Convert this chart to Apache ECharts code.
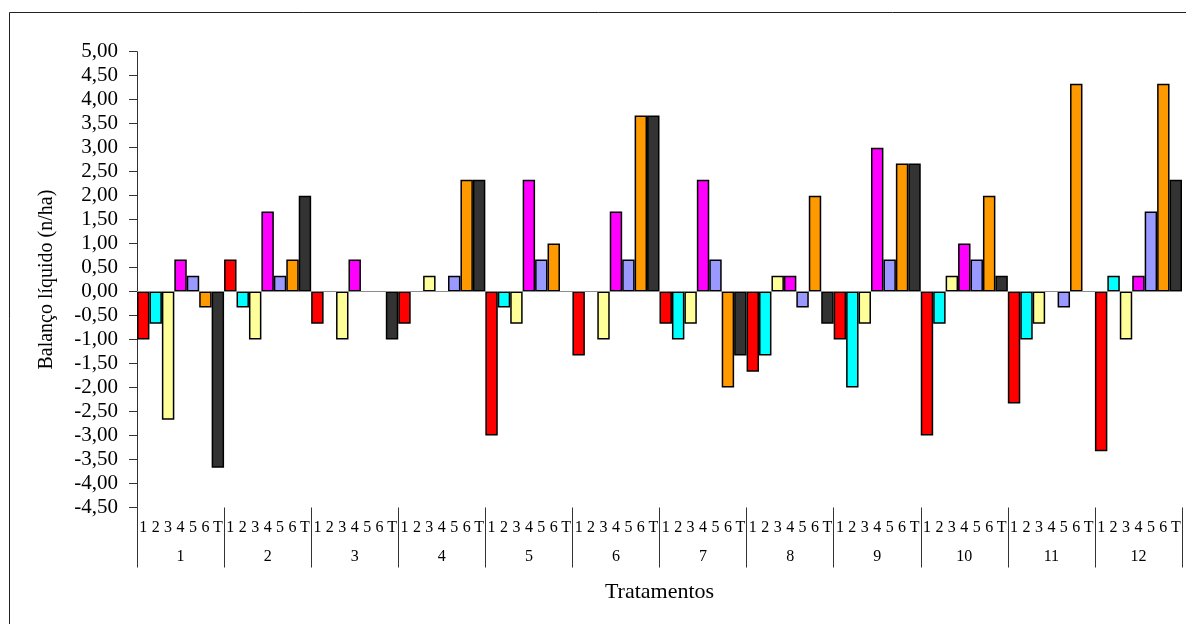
<!DOCTYPE html>
<html>
<head>
<meta charset="utf-8">
<title>Balanço líquido por tratamento</title>
<script src="https://cdn.jsdelivr.net/npm/echarts@6/dist/echarts.min.js"></script>
<style>
  html, body { margin: 0; padding: 0; background: #ffffff; }
  #chart { width: 1186px; height: 624px; }
</style>
</head>
<body>
<div id="chart"></div>
<script>
// Groups (tratamentos) along the horizontal axis
const groups = ['1', '2', '3', '4', '5', '6', '7', '8', '9', '10', '11', '12'];
// Sub-items drawn inside every group
const items = ['1', '2', '3', '4', '5', '6', 'T'];

// Net balance (n/ha) of each item, one value per group
const item1 = [-1.00, 0.67, -0.67, -0.67, -3.00, -1.33, -0.67, -1.67, -1.00, -3.00, -2.33, -3.33];
const item2 = [-0.67, -0.33, 0, 0, -0.33, 0, -1.00, -1.33, -2.00, -0.67, -1.00, 0.33];
const item3 = [-2.67, -1.00, -1.00, 0.33, -0.67, -1.00, -0.67, 0.33, -0.67, 0.33, -0.67, -1.00];
const item4 = [0.67, 1.67, 0.67, 0, 2.33, 1.67, 2.33, 0.33, 3.00, 1.00, 0, 0.33];
const item5 = [0.33, 0.33, 0, 0.33, 0.67, 0.67, 0.67, -0.33, 0.67, 0.67, -0.33, 1.67];
const item6 = [-0.33, 0.67, 0, 2.33, 1.00, 3.67, -2.00, 2.00, 2.67, 2.00, 4.33, 4.33];
const itemT = [-3.67, 2.00, -1.00, 2.33, 0, 3.67, -1.33, -0.67, 2.67, 0.33, 0, 2.33];

const itemValues = [item1, item2, item3, item4, item5, item6, itemT];
const itemColors = ['#FF0000', '#00FFFF', '#FFFF99', '#FF00FF', '#9999FF', '#FF9900', '#333333'];

const FONT = "'Liberation Serif', 'Times New Roman', serif";

// One label per bar for the inner category row
const subLabels = [];
groups.forEach(() => items.forEach(it => subLabels.push(it)));

const series = itemValues.map((vals, i) => ({
  name: items[i],
  type: 'bar',
  xAxisIndex: 0,
  yAxisIndex: 0,
  barGap: '0%',
  barCategoryGap: '0%',
  // empty slots stay empty instead of showing a flat outlined bar
  data: vals.map(v => (v === 0 ? '-' : v)),
  itemStyle: { color: itemColors[i], borderColor: '#000000', borderWidth: 1.5 },
  emphasis: { disabled: true },
  markLine: i === 0 ? {
    silent: true,
    symbol: ['none', 'none'],
    label: { show: false },
    lineStyle: { color: '#8c8c8c', width: 1, type: 'solid' },
    data: [{ yAxis: 0 }]
  } : undefined,
  z: 3
}));

const chart = echarts.init(document.getElementById('chart'), null, { renderer: 'canvas' });
chart.setOption({
  animation: false,
  backgroundColor: '#ffffff',
  textStyle: { fontFamily: FONT, color: '#000000' },
  grid: { left: 137, right: 4, top: 51.7, bottom: 116.5, containLabel: false },
  xAxis: [
    {
      type: 'category',
      data: groups,
      position: 'bottom',
      axisLine: { show: false, onZero: false },
      axisTick: { show: true, interval: 0, length: 60, lineStyle: { color: '#333333', width: 1 } },
      axisLabel: { interval: 0, margin: 41, fontSize: 16, fontFamily: FONT, color: '#000000' },
      splitLine: { show: false },
      name: 'Tratamentos',
      nameLocation: 'middle',
      nameGap: 74,
      nameTextStyle: { fontSize: 22, fontFamily: FONT, color: '#000000' }
    },
    {
      type: 'category',
      data: subLabels,
      position: 'bottom',
      axisLine: { show: false, onZero: false },
      axisTick: { show: false },
      axisLabel: { interval: 0, margin: 12, fontSize: 16, fontFamily: FONT, color: '#000000' },
      splitLine: { show: false }
    }
  ],
  yAxis: {
    type: 'value',
    min: -4.5,
    max: 5,
    interval: 0.5,
    axisLine: { show: true, lineStyle: { color: '#333333', width: 1 } },
    axisTick: { show: true, inside: false, length: 8, lineStyle: { color: '#333333' } },
    axisLabel: {
      margin: 19,
      fontSize: 21,
      fontFamily: FONT,
      color: '#000000',
      formatter: v => v.toFixed(2).replace('.', ',')
    },
    splitLine: { show: false },
    name: 'Balanço líquido (n/ha)',
    nameLocation: 'middle',
    nameRotate: 90,
    nameGap: 80,
    nameTextStyle: { fontSize: 20, fontFamily: FONT, color: '#000000' }
  },
  graphic: [
    {
      type: 'rect',
      silent: true,
      shape: { x: 9.5, y: 12.5, width: 1200, height: 700 },
      style: { fill: null, stroke: '#222222', lineWidth: 1 }
    }
  ],
  series: series
});
</script>
</body>
</html>
